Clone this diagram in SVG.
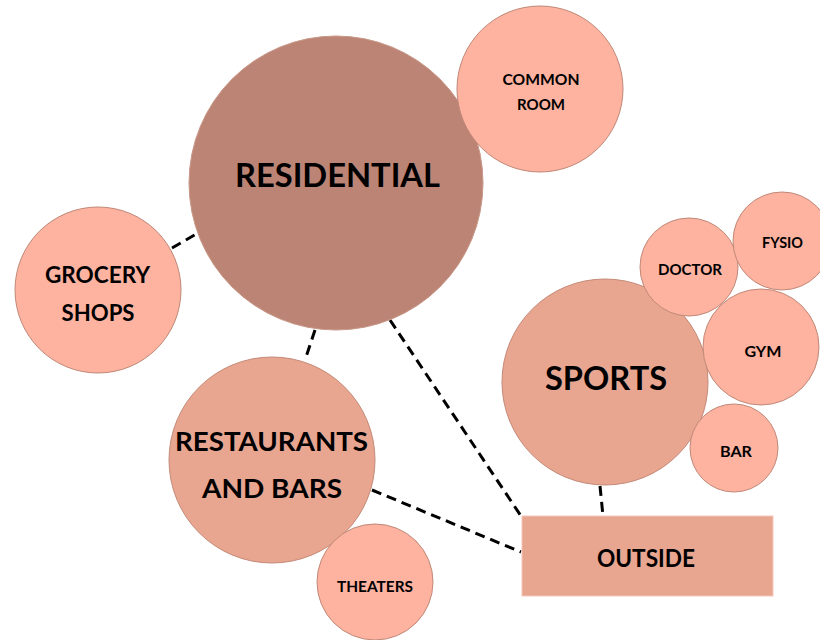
<svg xmlns="http://www.w3.org/2000/svg" width="820" height="640" viewBox="0 0 820 640">
<style>
.lbl{font-family:Lato,"Open Sans","Liberation Sans",sans-serif;font-weight:bold;fill:#000;text-anchor:middle}
.main{fill:#BC8475;stroke:#C89888;stroke-width:1}
.mid{fill:#E8A590;stroke:#C48A78;stroke-width:1}
.small{fill:#FDB3A0;stroke:#C08878;stroke-width:1}
.rect{fill:#E8A590;stroke:#F4C8BA;stroke-width:1}
.con{stroke:#000;stroke-width:3;stroke-dasharray:10 6;fill:none}
</style>
<rect width="820" height="640" fill="#fff"/>
<g id="connectors">
<line class="con" x1="172" y1="248" x2="198" y2="233"/>
<line class="con" x1="315" y1="330" x2="305" y2="360"/>
<line class="con" x1="390" y1="320" x2="521" y2="516"/>
<line class="con" x1="372" y1="490" x2="521" y2="552"/>
<line class="con" x1="600" y1="486" x2="603" y2="516"/>
</g>
<g id="residential">
<circle class="main" cx="336" cy="183" r="147"/>
<text class="lbl" x="337.5" y="187" font-size="32" textLength="205" lengthAdjust="spacingAndGlyphs">RESIDENTIAL</text>
</g>
<g id="common-room">
<circle class="small" cx="540" cy="89" r="83"/>
<text class="lbl" x="541" y="85" font-size="16" textLength="77" lengthAdjust="spacingAndGlyphs">COMMON</text>
<text class="lbl" x="541" y="110" font-size="16" textLength="48" lengthAdjust="spacingAndGlyphs">ROOM</text>
</g>
<g id="grocery-shops">
<circle class="small" cx="98" cy="290" r="83"/>
<text class="lbl" x="97.5" y="283" font-size="22" textLength="105" lengthAdjust="spacingAndGlyphs">GROCERY</text>
<text class="lbl" x="98" y="321" font-size="22" textLength="73" lengthAdjust="spacingAndGlyphs">SHOPS</text>
</g>
<g id="restaurants">
<circle class="mid" cx="272" cy="460" r="103"/>
<text class="lbl" x="271.5" y="451" font-size="27" textLength="193" lengthAdjust="spacingAndGlyphs">RESTAURANTS</text>
<text class="lbl" x="272" y="498" font-size="27" textLength="140" lengthAdjust="spacingAndGlyphs">AND BARS</text>
</g>
<g id="theaters">
<circle class="small" cx="375" cy="582" r="58"/>
<text class="lbl" x="375" y="592" font-size="16" textLength="76" lengthAdjust="spacingAndGlyphs">THEATERS</text>
</g>
<g id="sports">
<circle class="mid" cx="605" cy="382" r="103"/>
<text class="lbl" x="606" y="390" font-size="32" textLength="122" lengthAdjust="spacingAndGlyphs">SPORTS</text>
</g>
<g id="doctor">
<circle class="small" cx="689" cy="267" r="49"/>
<text class="lbl" x="690" y="275" font-size="16" textLength="64" lengthAdjust="spacingAndGlyphs">DOCTOR</text>
</g>
<g id="fysio">
<circle class="small" cx="782" cy="241" r="49"/>
<text class="lbl" x="782.5" y="248" font-size="15" textLength="41" lengthAdjust="spacingAndGlyphs">FYSIO</text>
</g>
<g id="gym">
<circle class="small" cx="761" cy="347" r="58"/>
<text class="lbl" x="763" y="357" font-size="16" textLength="37" lengthAdjust="spacingAndGlyphs">GYM</text>
</g>
<g id="bar">
<circle class="small" cx="734" cy="448" r="44"/>
<text class="lbl" x="736" y="457" font-size="16" textLength="32" lengthAdjust="spacingAndGlyphs">BAR</text>
</g>
<g id="outside">
<rect class="rect" x="522" y="516" width="251" height="80"/>
<text class="lbl" x="646" y="567" font-size="24" textLength="98" lengthAdjust="spacingAndGlyphs">OUTSIDE</text>
</g>
</svg>
